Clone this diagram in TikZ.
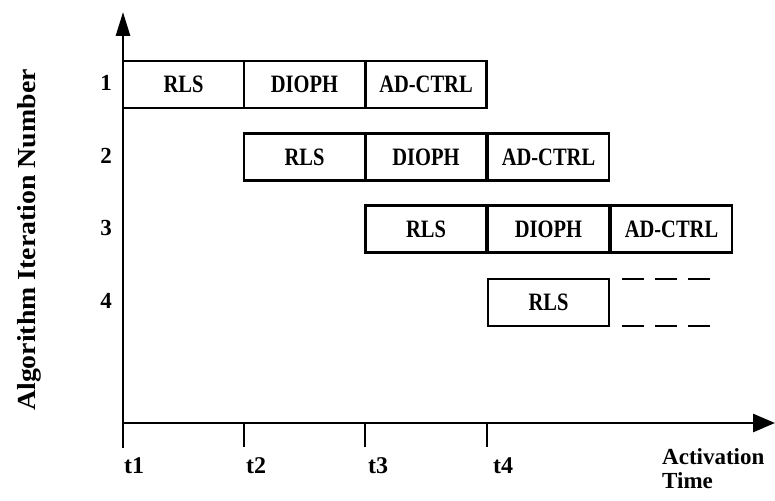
\documentclass[tikz,border=0pt]{standalone}
\usepackage{fontspec}
\setmainfont{Liberation Serif}
\newfontfamily\boxfont[FakeStretch=0.82]{Liberation Serif}
\newfontfamily\ylabfont[FakeStretch=1.07]{Liberation Serif}
\usetikzlibrary{arrows.meta}
\begin{document}
\begin{tikzpicture}[x=1pt,y=-1pt,
  task/.style={draw,line width=2.4pt,minimum width=121pt,minimum height=47pt,inner sep=0pt,font=\boxfont\fontsize{25}{27}\selectfont\bfseries},
  axis/.style={line width=2.8pt},
  tick/.style={line width=2.6pt},
  dashline/.style={line width=2.8pt,dash pattern=on 22pt off 11pt},
  lbl/.style={font=\fontsize{24}{21}\selectfont\bfseries,inner sep=0pt},
  rownum/.style={font=\fontsize{23}{25}\selectfont\bfseries,inner sep=0pt,anchor=base},
]
\useasboundingbox (0,0) rectangle (775,500);
% axes
\coordinate (o) at (123,423);
\coordinate (ybot) at (123,448);
\coordinate (ytop) at (123,12);
\coordinate (xend) at (775,423);
\draw[axis,-{Triangle[length=24pt,width=14pt]}] (ybot) -- (ytop);
\draw[axis,-{Triangle[length=22pt,width=18pt]}] (o) -- (xend);
% ticks
\coordinate (t2a) at (244,423); \coordinate (t2b) at (244,447);
\coordinate (t3a) at (365,423); \coordinate (t3b) at (365,447);
\coordinate (t4a) at (487,423); \coordinate (t4b) at (487,447);
\draw[tick] (t2a) -- (t2b);
\draw[tick] (t3a) -- (t3b);
\draw[tick] (t4a) -- (t4b);
% tick labels
\node[lbl,anchor=base west] (l1) at (124,473) {t1};
\node[lbl,anchor=base west] (l2) at (246,473) {t2};
\node[lbl,anchor=base west] (l3) at (368,473) {t3};
\node[lbl,anchor=base west] (l4) at (493,473) {t4};
\node[font=\fontsize{23}{24.5}\selectfont\bfseries,inner sep=0pt,anchor=north west,align=left] (at) at (662,448) {Activation\\Time};
% y label
\node[font=\ylabfont\fontsize{26}{28}\selectfont\bfseries,rotate=90,anchor=base,inner sep=0pt] (ylab) at (35,240) {Algorithm Iteration Number};
% row labels
\node[rownum] (r1) at (106,91) {1};
\node[rownum] (r2) at (106,163) {2};
\node[rownum] (r3) at (106,235) {3};
\node[rownum] (r4) at (106,308) {4};
% row 1
\node[task] (a1) at (183.5,84.5) {RLS};
\node[task] (b1) at (304.5,84.5) {DIOPH};
\node[task] (c1) at (426,84.5) {AD-CTRL};
% row 2
\node[task] (a2) at (304.5,157) {RLS};
\node[task] (b2) at (426,157) {DIOPH};
\node[task] (c2) at (548.5,157) {AD-CTRL};
% row 3
\node[task] (a3) at (426,229) {RLS};
\node[task] (b3) at (548.5,229) {DIOPH};
\node[task] (c3) at (671.5,229) {AD-CTRL};
% row 4
\node[task] (a4) at (548.5,302.5) {RLS};
% dashes
\coordinate (d1a) at (622,279); \coordinate (d1b) at (710,279);
\coordinate (d2a) at (622,326); \coordinate (d2b) at (710,326);
\draw[dashline] (d1a) -- (d1b);
\draw[dashline] (d2a) -- (d2b);
\end{tikzpicture}
\end{document}
